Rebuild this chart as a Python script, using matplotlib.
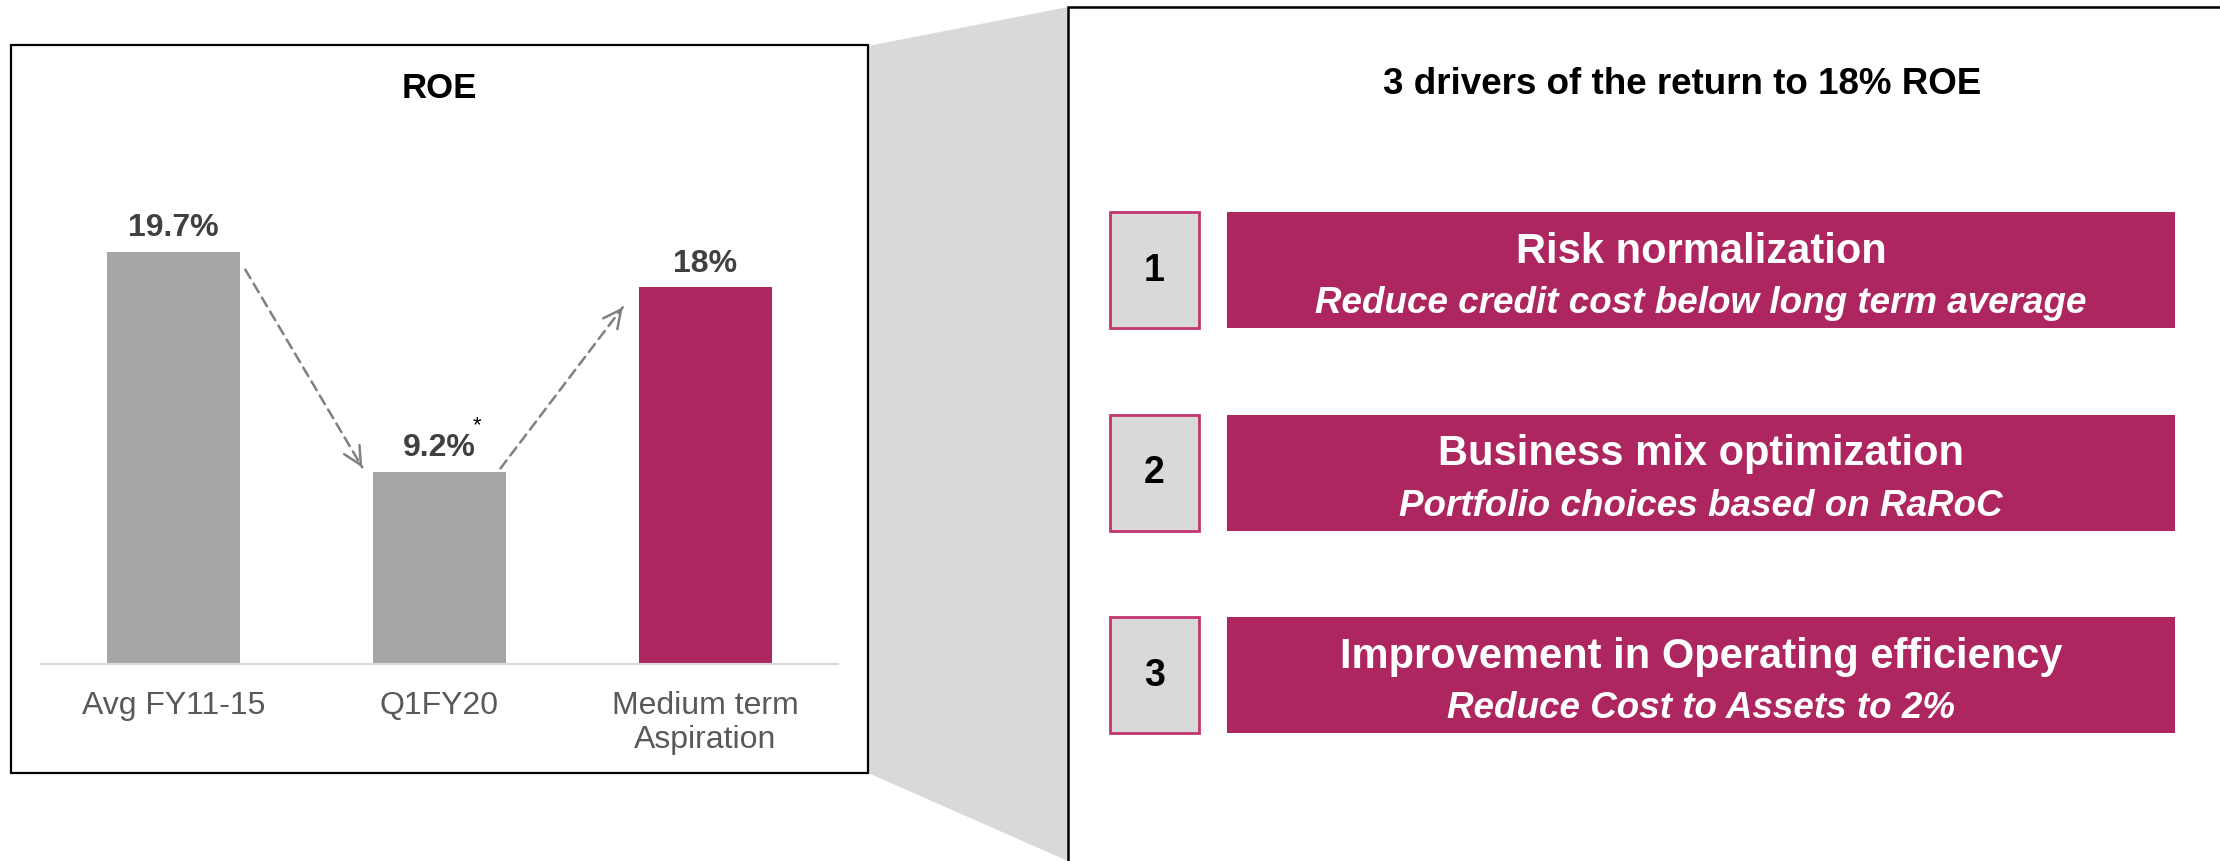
import matplotlib.pyplot as plt
from matplotlib.patches import Rectangle, Polygon

plt.rcParams['font.family'] = ['Liberation Sans', 'DejaVu Sans']

# data
categories = ['Avg FY11-15', 'Q1FY20', 'Medium term\nAspiration']
roe_values = [19.7, 9.2, 18.0]
value_labels = ['19.7%', '9.2%', '18%']
bar_colors = ['#A6A6A6', '#A6A6A6', '#AE2660']

driver_nums = ['1', '2', '3']
driver_heads = ['Risk normalization', 'Business mix optimization',
                'Improvement in Operating efficiency']
driver_subs = ['Reduce credit cost below long term average',
               'Portfolio choices based on RaRoC',
               'Reduce Cost to Assets to 2%']

PINK = '#AE2660'
W, H = 2220, 862

fig = plt.figure(figsize=(W / 100, H / 100), dpi=100)

# background layer in pixel coordinates
bg = fig.add_axes([0, 0, 1, 1])
bg.set_xlim(0, W)
bg.set_ylim(H, 0)
bg.axis('off')

# zoom-out connector and boxes
bg.add_patch(Polygon([(868, 47), (1068, 8), (1068, H), (868, 774)],
                     closed=True, fc='#D9D9D9', ec='none'))
bg.add_patch(Rectangle((11, 46), 857, 728, fc='white', ec='black', lw=1.6))
bg.add_patch(Rectangle((1068, 8), 1200, 900, fc='white', ec='black', lw=1.8))

bg.text(439, 89, 'ROE', ha='center', va='center', fontsize=25,
        fontweight='bold', color='black')
bg.text(1682, 84, '3 drivers of the return to 18% ROE', ha='center',
        va='center', fontsize=26.5, fontweight='bold', color='black')

# driver rows
row_top = 213
row_step = 202.5
for i, (n, head, sub) in enumerate(zip(driver_nums, driver_heads, driver_subs)):
    top = row_top + i * row_step
    bg.add_patch(Rectangle((1110, top), 89, 116, fc='#D9D9D9', ec='#C2356E', lw=2))
    bg.text(1154.5, top + 58, n, ha='center', va='center', fontsize=27,
            fontweight='bold', color='black')
    bg.add_patch(Rectangle((1227, top), 948, 116, fc=PINK, ec='none'))
    bg.text(1701, top + 39, head, ha='center', va='center', fontsize=30,
            fontweight='bold', color='white')
    bg.text(1701, top + 91, sub, ha='center', va='center', fontsize=26.5,
            fontweight='bold', style='italic', color='white')

# bar chart
ax = fig.add_axes([40.7 / W, (H - 665) / H, 797.3 / W, 523 / H])
ax.patch.set_alpha(0)
x = list(range(len(categories)))
ax.bar(x, roe_values, width=0.5, color=bar_colors, zorder=2)
ax.set_xlim(-0.5, 2.5)
ax.set_ylim(0, 25)
for s in ['top', 'right', 'left']:
    ax.spines[s].set_visible(False)
ax.spines['bottom'].set_color('#D9D9D9')
ax.spines['bottom'].set_linewidth(1.5)
ax.set_yticks([])
ax.set_xticks(x)
ax.set_xticklabels(categories, fontsize=23, color='#595959', linespacing=1.15)
ax.tick_params(axis='x', length=0, pad=19)

for xi, v, lab in zip(x, roe_values, value_labels):
    ax.annotate(lab, xy=(xi, v), xytext=(0, 12), textcoords='offset points',
                ha='center', va='baseline', fontsize=23, fontweight='bold',
                color='#404040')
ax.annotate('*', xy=(1, roe_values[1]), xytext=(27, 34),
            textcoords='offset points', ha='center', va='center',
            fontsize=16, color='black')


def dashed_arrow(p0, p1):
    ax.annotate('', xy=p1, xytext=p0,
                arrowprops=dict(arrowstyle='-', linestyle=(0, (4, 2.5)),
                                color='#808080', lw=1.8,
                                shrinkA=0, shrinkB=0))
    dx, dy = p1[0] - p0[0], p1[1] - p0[1]
    ax.annotate('', xy=p1, xytext=(p1[0] - dx * 0.02, p1[1] - dy * 0.02),
                arrowprops=dict(arrowstyle='->', color='#808080', lw=1.8,
                                mutation_scale=32, shrinkA=0, shrinkB=0))


dashed_arrow((0.27, roe_values[0] - 0.85), (0.71, roe_values[1] + 0.2))
dashed_arrow((1.23, roe_values[1] + 0.15), (1.69, roe_values[2] - 0.95))

fig.savefig('out.png', dpi=100, facecolor='white')
